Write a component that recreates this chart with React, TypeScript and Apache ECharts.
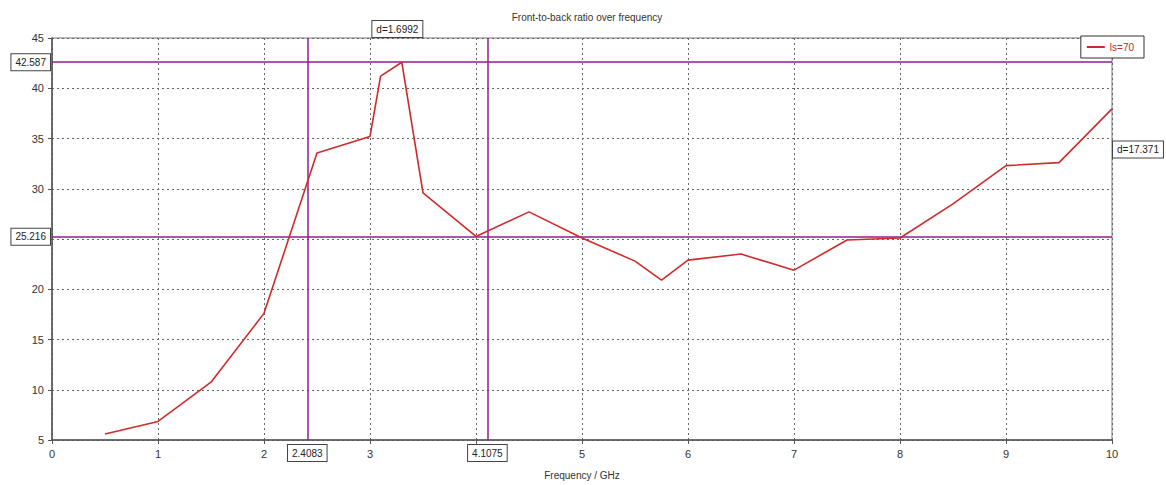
import React, { useEffect, useRef } from "react";
import * as echarts from "echarts";

// Front-to-back ratio samples (frequency in GHz, ratio in dB)
const frequencies = [0.5, 1, 1.5, 2, 2.5, 3, 3.1, 3.3, 3.5, 4, 4.5, 5, 5.5, 5.75, 6, 6.5, 7, 7.5, 8, 8.5, 9, 9.5, 10];
const ratios = [5.6, 6.85, 10.75, 17.6, 33.55, 35.2, 41.2, 42.587, 29.6, 25.25, 27.7, 25.1, 22.8, 20.9, 22.9, 23.5, 21.9, 24.9, 25.1, 28.5, 32.3, 32.6, 37.95];

const seriesName = "ls=70";
const titleText = "Front-to-back ratio over frequency";
const xAxisName = "Frequency / GHz";

// Marker positions
const markerX = [2.4083, 4.1075];
const markerY = [42.587, 25.216];

// Tick labels hidden behind the marker boxes
const hiddenXTicks = [4];
const hiddenYTicks = [25];

const FONT = "Liberation Sans";
const RED = "#d02a2a";
const PURPLE = "#8e1f8e";

export default function App() {
  const ref = useRef<HTMLDivElement>(null);

  useEffect(() => {
    if (!ref.current) return;
    const chart = echarts.init(ref.current, undefined, { renderer: "svg" });
    const data = frequencies.map((f, i) => [f, ratios[i]]);

    chart.setOption({
      animation: false,
      backgroundColor: "#ffffff",
      textStyle: { fontFamily: FONT },
      title: {
        text: titleText,
        left: 582,
        textAlign: "center",
        top: 7,
        textStyle: { fontSize: 10, fontWeight: "normal", color: "#333", fontFamily: FONT },
      },
      legend: {
        right: 22,
        top: 36,
        data: [{ name: seriesName, icon: "rect" }],
        itemWidth: 18,
        itemHeight: 2,
        padding: [6, 10, 6, 6],
        borderColor: "#333",
        borderWidth: 1,
        backgroundColor: "#ffffff",
        z: 20,
        textStyle: { color: "#c02828", fontSize: 10, fontFamily: FONT },
      },
      grid: { left: 52, right: 54, top: 38, bottom: 44, show: true, borderColor: "#777", borderWidth: 1 },
      xAxis: {
        type: "value",
        min: 0,
        max: 10,
        interval: 1,
        name: xAxisName,
        nameLocation: "middle",
        nameGap: 30,
        nameTextStyle: { fontSize: 10, color: "#333", fontFamily: FONT },
        axisLine: { show: true, onZero: false, lineStyle: { color: "#555", width: 1.5 } },
        axisTick: { show: true, length: 4, lineStyle: { color: "#555" } },
        axisLabel: {
          fontSize: 11,
          color: "#333",
          margin: 8,
          fontFamily: FONT,
          formatter: (v: number) => (hiddenXTicks.includes(v) ? "" : String(v)),
        },
        splitLine: { show: true, lineStyle: { color: "#666", type: [2, 3], width: 1 } },
      },
      yAxis: {
        type: "value",
        min: 5,
        max: 45,
        interval: 5,
        axisLine: { show: true, onZero: false, lineStyle: { color: "#555", width: 1.5 } },
        axisTick: { show: true, length: 4, lineStyle: { color: "#555" } },
        axisLabel: {
          fontSize: 11,
          color: "#333",
          margin: 8,
          fontFamily: FONT,
          formatter: (v: number) => (hiddenYTicks.includes(v) ? "" : String(v)),
        },
        splitLine: { show: true, lineStyle: { color: "#666", type: [2, 3], width: 1 } },
      },
      series: [
        {
          name: seriesName,
          type: "line",
          data,
          symbol: "none",
          lineStyle: { color: RED, width: 1.6 },
          itemStyle: { color: RED },
          z: 5,
          markLine: {
            silent: true,
            symbol: "none",
            label: { show: false },
            lineStyle: { color: PURPLE, width: 1.5, type: "solid" },
            data: [
              ...markerX.map((v) => ({ xAxis: v })),
              ...markerY.map((v) => ({ yAxis: v })),
            ],
          },
        },
      ],
    });

    // Boxed marker labels placed through the axis scales
    const boxStyle = {
      fontSize: 10,
      fontFamily: FONT,
      fill: "#222",
      backgroundColor: "#ffffff",
      borderColor: "#444",
      borderWidth: 1,
      padding: [3, 4, 3, 4],
    };
    const px = (x: number, y: number) => chart.convertToPixel({ gridIndex: 0 }, [x, y]) as number[];
    const [, yBottom] = px(0, 5);
    const [, yTop] = px(0, 45);
    const [xLeft] = px(0, 5);
    const [xRight] = px(10, 5);

    const fmtX = (v: number) => v.toFixed(4);
    const fmtY = (v: number) => v.toFixed(3);

    const graphics: any[] = [];
    markerX.forEach((v) => {
      const [x] = px(v, 5);
      graphics.push({
        type: "text",
        x,
        y: yBottom + 5,
        z: 30,
        style: { ...boxStyle, text: fmtX(v), align: "center", verticalAlign: "top" },
      });
    });
    markerY.forEach((v) => {
      const [, y] = px(0, v);
      graphics.push({
        type: "text",
        x: xLeft - 2,
        y,
        z: 30,
        style: { ...boxStyle, text: fmtY(v), align: "right", verticalAlign: "middle" },
      });
    });
    const [xa] = px(markerX[0], 5);
    const [xb] = px(markerX[1], 5);
    graphics.push({
      type: "text",
      x: (xa + xb) / 2,
      y: yTop - 1,
      z: 30,
      style: {
        ...boxStyle,
        text: "d=" + fmtX(Math.abs(markerX[1] - markerX[0])),
        align: "center",
        verticalAlign: "bottom",
      },
    });
    const [, ya] = px(0, markerY[0]);
    const [, yb] = px(0, markerY[1]);
    graphics.push({
      type: "text",
      x: xRight + 1,
      y: (ya + yb) / 2,
      z: 30,
      style: {
        ...boxStyle,
        text: "d=" + fmtY(Math.abs(markerY[0] - markerY[1])),
        align: "left",
        verticalAlign: "middle",
      },
    });

    chart.setOption({ graphic: graphics });

    return () => chart.dispose();
  }, []);

  return (
    <div
      ref={ref}
      style={{ position: "fixed", left: 0, top: 0, width: 1166, height: 485, background: "#fff" }}
    />
  );
}
